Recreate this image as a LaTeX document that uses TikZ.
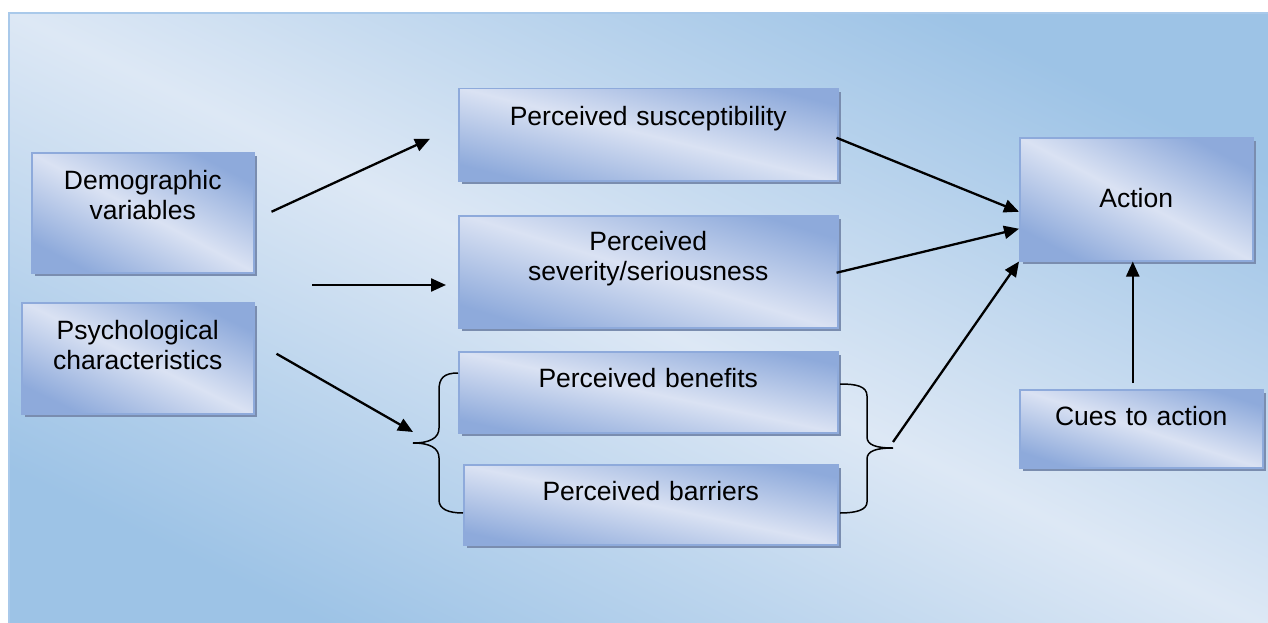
\documentclass[tikz,border=0pt]{standalone}
\usepackage{fontspec}
\setmainfont{Liberation Sans}
\usetikzlibrary{arrows.meta,shadows}

\definecolor{bglight}{HTML}{DDE8F5}
\definecolor{bgdark}{HTML}{9DC3E6}
\definecolor{bgline}{HTML}{A9C9EA}
\definecolor{boxlight}{HTML}{DAE2F3}
\definecolor{boxdark}{HTML}{8EAADB}
\definecolor{boxshadow}{HTML}{7A8DAF}

\tikzset{
	box/.style={anchor=north west, draw=boxdark, line width=1.5pt, inner sep=0pt, align=center,
		top color=boxdark, bottom color=boxdark, middle color=boxlight, shading angle=#1,
		drop shadow={shadow xshift=3.5pt, shadow yshift=-3.5pt, fill=boxshadow, opacity=1},
		font=\fontsize{26.5}{29.5}\selectfont},
	box/.default=-20,
	arr/.style={line width=2.3pt, -{Triangle[length=15pt,width=13pt]}},
	brace/.style={line width=1.5pt}
}

\begin{document}
\begin{tikzpicture}[x=1pt, y=-1pt]
		\useasboundingbox (0,0) rectangle (1268,623);
		\fill[white] (0,0) rectangle (1268,623);
		\shade[draw=bgline, line width=1.5pt, top color=bgdark, bottom color=bgdark, middle color=bglight, shading angle=-26] (9,13) rectangle (1272,627);

		\node (dem)[box=-28, text width=222pt, text height=37pt, text depth=83pt] at (31,152)  {Demographic\\variables};
		\node (psy)[box=-26, text width=232pt, text height=37pt, text depth=74pt] at (21,302)  {Psychological\\characteristics};

		\node (sus)[box=-14, text width=379pt, text height=37pt, text depth=55pt] at (458,88)  {Perceived susceptibility};
		\node (sev)[box=-17, text width=379pt, text height=35pt, text depth=77pt] at (458,215) {Perceived\\severity/seriousness};
		\node (ben)[box=-12, text width=379pt, text height=36pt, text depth=45pt] at (458,351) {Perceived benefits};
		\node (bar)[box=-12, text width=374pt, text height=36pt, text depth=44pt] at (463,464) {Perceived barriers};

		\node (act)[box=-28, text width=233pt, text height=70pt, text depth=53pt] at (1019,137) {Action};
		\node (cue)[box=-18, text width=243pt, text height=36pt, text depth=42pt] at (1019,389) {Cues to action};

		\coordinate (mid) at (312,285);
		\coordinate (lb) at (413,443);
		\coordinate (rb) at (893,448);

		\draw[brace] (458,373) .. controls (444,373) and (439,378) .. (439,390) -- (439,428) .. controls (439,438) and (430,443) .. (lb) .. controls (430,443) and (439,448) .. (439,458) -- (439,500) .. controls (439,509) and (448,513) .. (463,513);
		\draw[brace] (840,384) .. controls (856,384) and (867,386) .. (867,396) -- (867,437) .. controls (867,445) and (876,448) .. (rb) .. controls (876,448) and (867,451) .. (867,459) -- (867,502) .. controls (867,510) and (856,513) .. (840,513);

		\draw[arr] ([xshift=17pt,yshift=1pt]dem.east) -- ([xshift=-28pt,yshift=-4pt]sus.west);
		\draw[arr, shorten >=12pt] (mid) -- (mid -| sev.west);
		\draw[arr] ([xshift=22pt,yshift=4.5pt]psy.east) -- ([yshift=11pt]lb);

		\draw[arr] ([xshift=-2pt,yshift=-3pt]sus.east) -- ([yshift=-12.5pt]act.west);
		\draw[arr] ([xshift=-2pt,yshift=-1pt]sev.east) -- ([yshift=-29.5pt]act.west);
		\draw[arr] ([yshift=6pt]rb) -- (act.south west);
		\draw[arr] ([xshift=-8.5pt,yshift=6pt]cue.north) -- ([xshift=-3.5pt]act.south);
	\end{tikzpicture}
\end{document}
